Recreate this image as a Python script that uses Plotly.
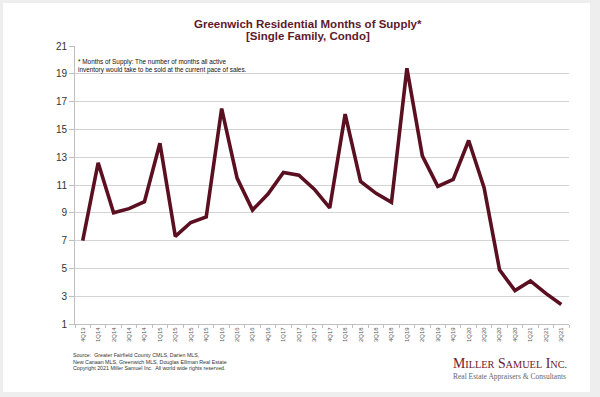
import plotly.graph_objects as go

quarters = ["4Q13",
            "1Q14", "2Q14", "3Q14", "4Q14",
            "1Q15", "2Q15", "3Q15", "4Q15",
            "1Q16", "2Q16", "3Q16", "4Q16",
            "1Q17", "2Q17", "3Q17", "4Q17",
            "1Q18", "2Q18", "3Q18", "4Q18",
            "1Q19", "2Q19", "3Q19", "4Q19",
            "1Q20", "2Q20", "3Q20", "4Q20",
            "1Q21", "2Q21", "3Q21"]
months_supply = [7.0,
                 12.6, 9.0, 9.3, 9.8,
                 14.0, 7.3, 8.3, 8.7,
                 16.5, 11.5, 9.2, 10.35,
                 11.9, 11.7, 10.7, 9.35,
                 16.1, 11.25, 10.4, 9.75,
                 19.4, 13.1, 10.9, 11.4,
                 14.2, 10.8, 4.9, 3.4,
                 4.1, 3.2, 2.4]
y_ticks = [1, 3, 5, 7, 9, 11, 13, 15, 17, 19, 21]

title_lines = ["Greenwich Residential Months of Supply*", "[Single Family, Condo]"]
note_lines = ["* Months of Supply: The number of months all active",
              "inventory would take to be sold at the current pace of sales."]
source_lines = ["Source:  Greater Fairfield County CMLS, Darien MLS,",
                "New Canaan MLS, Greenwich MLS, Douglas Elliman Real Estate",
                "Copyright 2021 Miller Samuel Inc.  All world wide rights reserved."]

W, H = 600, 397
L, R, T, B = 75, 31, 46, 73
pw, ph = W - L - R, H - T - B

def px(x):
    return (x - L) / pw

def py(y):
    return (H - B - y) / ph

MAROON = "#5a1020"
TITLE = "#5e1a2c"
SANS = "Liberation Sans, Arial, sans-serif"
SERIF = "Liberation Serif, Times New Roman, serif"

fig = go.Figure()
fig.add_trace(go.Scatter(
    x=quarters, y=months_supply, mode="lines",
    line=dict(color=MAROON, width=3.6),
    hoverinfo="skip", showlegend=False,
))

fig.update_layout(
    width=W, height=H,
    margin=dict(l=L, r=R, t=T, b=B, autoexpand=False),
    paper_bgcolor="#eeeeee",
    plot_bgcolor="white",
    font=dict(family=SANS, color="#222"),
    showlegend=False,
    xaxis=dict(
        type="category", tickangle=-90, tickfont=dict(size=6, color="#555"),
        showgrid=False, showline=True, linecolor="#bfbfbf", linewidth=1,
        ticks="outside", tickson="boundaries", ticklen=3, tickcolor="#bfbfbf",
        range=[-0.5, len(quarters) - 0.5], fixedrange=True,
    ),
    yaxis=dict(
        range=[1, 21], tickvals=y_ticks, tickfont=dict(size=10, color="#333"),
        showgrid=True, gridcolor="#d4d4d4", gridwidth=1,
        showline=True, linecolor="#bfbfbf", linewidth=1,
        ticks="outside", ticklen=5, tickcolor="#bfbfbf",
        zeroline=False, fixedrange=True,
    ),
    shapes=[
        dict(type="rect", xref="paper", yref="paper", layer="below",
             x0=px(3), x1=px(590), y0=py(392), y1=py(3),
             fillcolor="white", line=dict(width=0)),
    ],
)

for txt, yy in zip(title_lines, [24, 36]):
    fig.add_annotation(
        xref="paper", yref="paper", x=px(308), y=py(yy), xanchor="center", yanchor="middle",
        showarrow=False, text="<b>" + txt + "</b>",
        font=dict(size=11.5, color=TITLE, family=SANS),
    )

for txt, yy in zip(note_lines, [62.5, 69.5]):
    fig.add_annotation(
        xref="paper", yref="paper", x=px(76), y=py(yy), xanchor="left", yanchor="middle",
        showarrow=False, text=txt, font=dict(size=6.4, color="#111"),
    )

for txt, yy in zip(source_lines, [355, 361.5, 368]):
    fig.add_annotation(
        xref="paper", yref="paper", x=px(71), y=py(yy), xanchor="left", yanchor="middle",
        showarrow=False, text=txt, font=dict(size=5.3, color="#333"),
    )

fig.add_annotation(
    xref="paper", yref="paper", x=px(569), y=py(363), xanchor="right", yanchor="middle",
    showarrow=False,
    text="M<span style='font-size:10.3px'>ILLER</span> S<span style='font-size:10.3px'>AMUEL</span> I<span style='font-size:10.3px'>NC.</span>",
    font=dict(size=13.8, color="#6a1a2c", family=SERIF),
)
fig.add_annotation(
    xref="paper", yref="paper", x=px(568), y=py(376), xanchor="right", yanchor="middle",
    showarrow=False,
    text="Real Estate Appraisers &amp; Consultants",
    font=dict(size=7.5, color="#666", family=SERIF),
)

fig.write_html("out.html", config={"displayModeBar": False},
               post_script="document.body.style.margin='0';")
